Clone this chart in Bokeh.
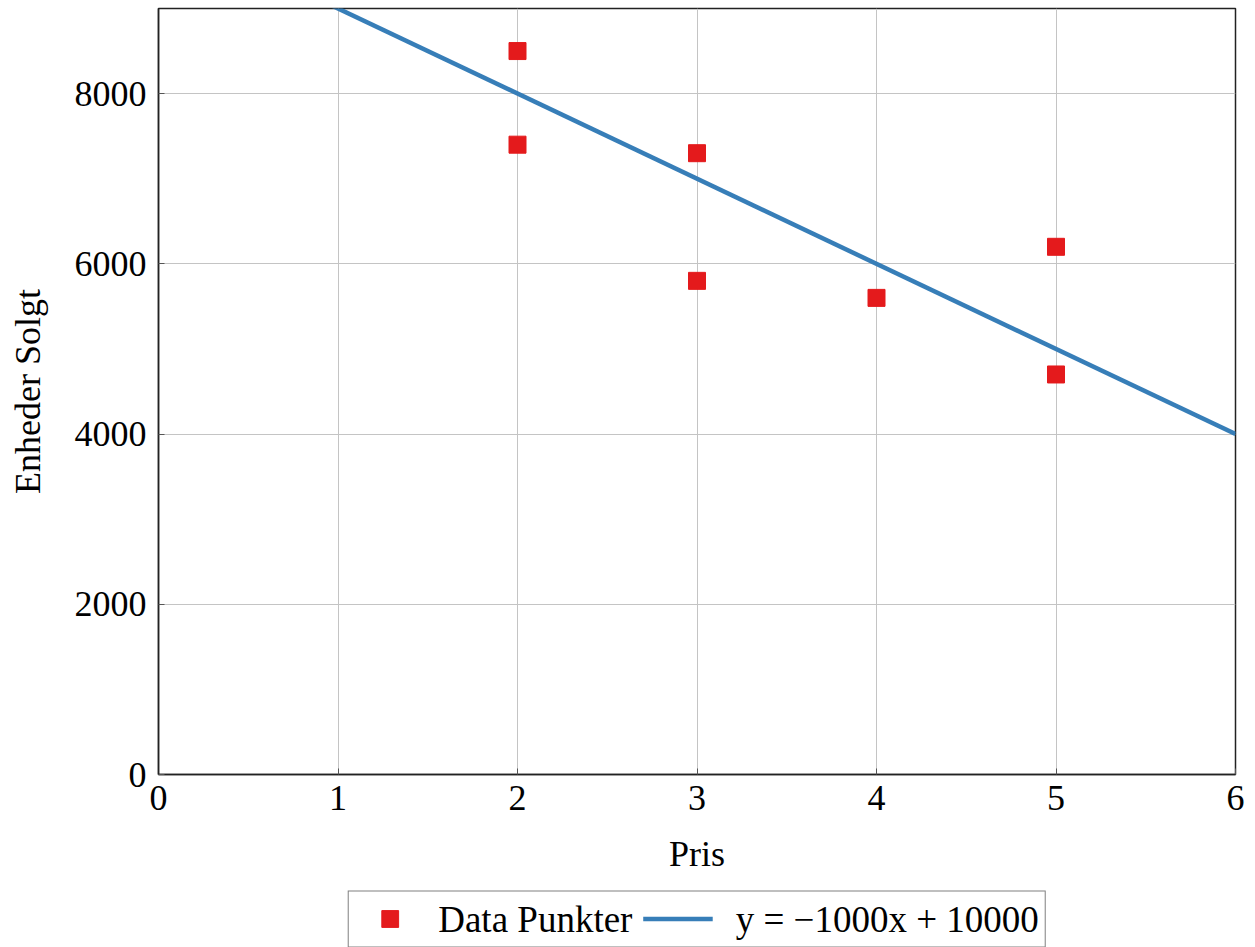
from bokeh.plotting import figure
from bokeh.layouts import column
from bokeh.models import Range1d, FixedTicker, Legend, LegendItem, ColumnDataSource
from bokeh.embed import file_html
from bokeh.resources import INLINE

# data
price = [2, 2, 3, 3, 4, 5, 5]
units = [8500, 7400, 7300, 5800, 5600, 6200, 4700]
slope = -1000
intercept = 10000
line_x = [0, 6]
line_y = [slope * v + intercept for v in line_x]
x_ticks = [0, 1, 2, 3, 4, 5, 6]
y_ticks = [0, 2000, 4000, 6000, 8000]
series_labels = ["Data Punkter", " y = \u22121000x + 10000"]

FONT = "Liberation Serif"
FS = "36px"
RED = "#e41a1c"
BLUE = "#377eb8"

p = figure(width=1248, height=890, output_backend="svg", toolbar_location=None,
           x_range=Range1d(0, 6), y_range=Range1d(0, 9000),
           min_border_left=158, min_border_right=13, min_border_top=8, min_border_bottom=116)

p.outline_line_color = "#222222"
p.outline_line_width = 1.5
p.background_fill_color = "white"
p.border_fill_color = "white"

for ax in (p.xaxis[0], p.yaxis[0]):
    ax.major_label_text_font = FONT
    ax.major_label_text_font_size = FS
    ax.major_label_text_color = "black"
    ax.axis_label_text_font = FONT
    ax.axis_label_text_font_size = FS
    ax.axis_label_text_font_style = "normal"
    ax.axis_label_text_color = "black"
    ax.axis_line_color = "#222222"
    ax.axis_line_width = 1.5
    ax.major_tick_in = 6
    ax.major_tick_out = 0
    ax.major_tick_line_color = "#555555"
    ax.minor_tick_line_color = None

p.xaxis.ticker = FixedTicker(ticks=x_ticks)
p.yaxis.ticker = FixedTicker(ticks=y_ticks)
p.xaxis.axis_label = "Pris"
p.yaxis.axis_label = "Enheder Solgt"
p.xaxis.major_label_standoff = 11
p.yaxis.major_label_standoff = 12
p.xaxis.axis_label_standoff = 21
p.yaxis.axis_label_standoff = 24

p.grid.grid_line_color = "#c4c4c4"
p.grid.grid_line_width = 1

src = ColumnDataSource(dict(x=price, y=units))
p.scatter("x", "y", source=src, marker="square", size=17,
          fill_color=RED, line_color=RED)
p.line(line_x, line_y, line_color=BLUE, line_width=4.5)

# legend strip below the chart (its renderers reuse the data but lie outside its ranges)
lg = figure(width=1248, height=57, output_backend="svg", toolbar_location=None,
            x_axis_type=None, y_axis_type=None,
            x_range=Range1d(-2, -1), y_range=Range1d(-2, -1),
            min_border_left=158, min_border_right=13, min_border_top=0, min_border_bottom=0)
lg.outline_line_color = None
lg.grid.visible = False
lg.border_fill_color = "white"
proxy_pts = lg.scatter("x", "y", source=src, marker="square", size=17,
                       fill_color=RED, line_color=RED)
proxy_ln = lg.line(line_x, line_y, line_color=BLUE, line_width=4.5)

legend = Legend(items=[LegendItem(label=series_labels[0], renderers=[proxy_pts]),
                       LegendItem(label=series_labels[1], renderers=[proxy_ln])],
                orientation="horizontal", location="center")
legend.label_text_font = FONT
legend.label_text_font_size = "37px"
legend.label_text_color = "black"
legend.border_line_color = "black"
legend.border_line_width = 1.2
legend.glyph_width = 70
legend.glyph_height = 42
legend.label_standoff = 14
legend.spacing = 10
legend.padding = 6
legend.margin = 0
legend.label_height = 30
lg.add_layout(legend, "center")

open("out.html", "w").write(file_html(column(p, lg, spacing=0), INLINE))
